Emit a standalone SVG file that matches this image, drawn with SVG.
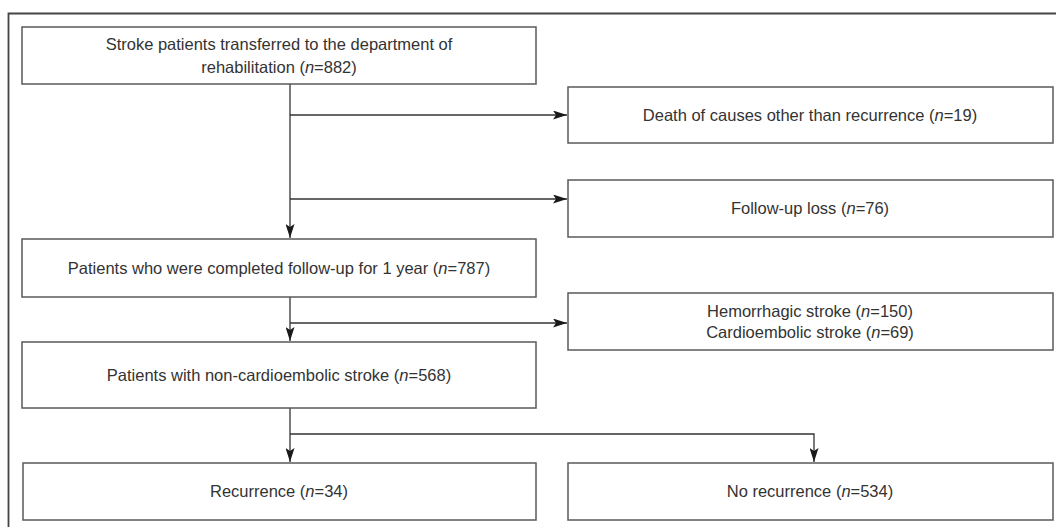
<svg xmlns="http://www.w3.org/2000/svg" width="1056" height="527" viewBox="0 0 1056 527">
<defs>
<style>
.box{fill:#fff;stroke:#5a5a5a;stroke-width:1.5}
.t{font-family:"Liberation Sans",Arial,sans-serif;font-size:16.5px;fill:#333;text-anchor:middle}
.c{fill:none;stroke:#333;stroke-width:1.3}
.frame{fill:none;stroke:#444;stroke-width:1.8}
</style>
<marker id="ah" viewBox="0 0 14 9" refX="14" refY="4.5" markerWidth="14" markerHeight="9" markerUnits="userSpaceOnUse" orient="auto">
<path d="M0,0 L14,4.5 L0,9 L3,4.5 Z" fill="#1a1a1a"/>
</marker>
</defs>
<rect width="1056" height="527" fill="#fff"/>
<path class="frame" d="M8.5,527 V13.5 H1056"/>
<g id="connectors">
<line class="c" x1="290" y1="84" x2="290" y2="238" marker-end="url(#ah)"/>
<line class="c" x1="290" y1="115" x2="567" y2="115" marker-end="url(#ah)"/>
<line class="c" x1="290" y1="199" x2="567" y2="199" marker-end="url(#ah)"/>
<line class="c" x1="290" y1="297" x2="290" y2="341" marker-end="url(#ah)"/>
<line class="c" x1="290" y1="323" x2="567" y2="323" marker-end="url(#ah)"/>
<line class="c" x1="290" y1="408" x2="290" y2="462" marker-end="url(#ah)"/>
<polyline class="c" points="290,434 814,434 814,462" marker-end="url(#ah)"/>
</g>
<g id="n1"><rect class="box" x="22" y="27" width="514" height="57"/>
<text class="t" x="279" y="50">Stroke patients transferred to the department of</text>
<text class="t" x="279" y="73">rehabilitation (<tspan font-style="italic">n</tspan>=882)</text></g>
<g id="n2"><rect class="box" x="568" y="87" width="485" height="56"/>
<text class="t" x="810" y="121">Death of causes other than recurrence (<tspan font-style="italic">n</tspan>=19)</text></g>
<g id="n3"><rect class="box" x="568" y="180" width="485" height="57"/>
<text class="t" x="810" y="214">Follow-up loss (<tspan font-style="italic">n</tspan>=76)</text></g>
<g id="n4"><rect class="box" x="22" y="239" width="514" height="58"/>
<text class="t" x="279" y="274">Patients who were completed follow-up for 1 year (<tspan font-style="italic">n</tspan>=787)</text></g>
<g id="n5"><rect class="box" x="568" y="293" width="485" height="57"/>
<text class="t" x="810" y="317">Hemorrhagic stroke (<tspan font-style="italic">n</tspan>=150)</text>
<text class="t" x="810" y="338">Cardioembolic stroke  (<tspan font-style="italic">n</tspan>=69)</text></g>
<g id="n6"><rect class="box" x="22" y="342" width="514" height="66"/>
<text class="t" x="279" y="381">Patients with non-cardioembolic stroke (<tspan font-style="italic">n</tspan>=568)</text></g>
<g id="n7"><rect class="box" x="23" y="463" width="513" height="57"/>
<text class="t" x="279" y="497">Recurrence (<tspan font-style="italic">n</tspan>=34)</text></g>
<g id="n8"><rect class="box" x="568" y="463" width="485" height="57"/>
<text class="t" x="810" y="497">No recurrence (<tspan font-style="italic">n</tspan>=534)</text></g>
</svg>
